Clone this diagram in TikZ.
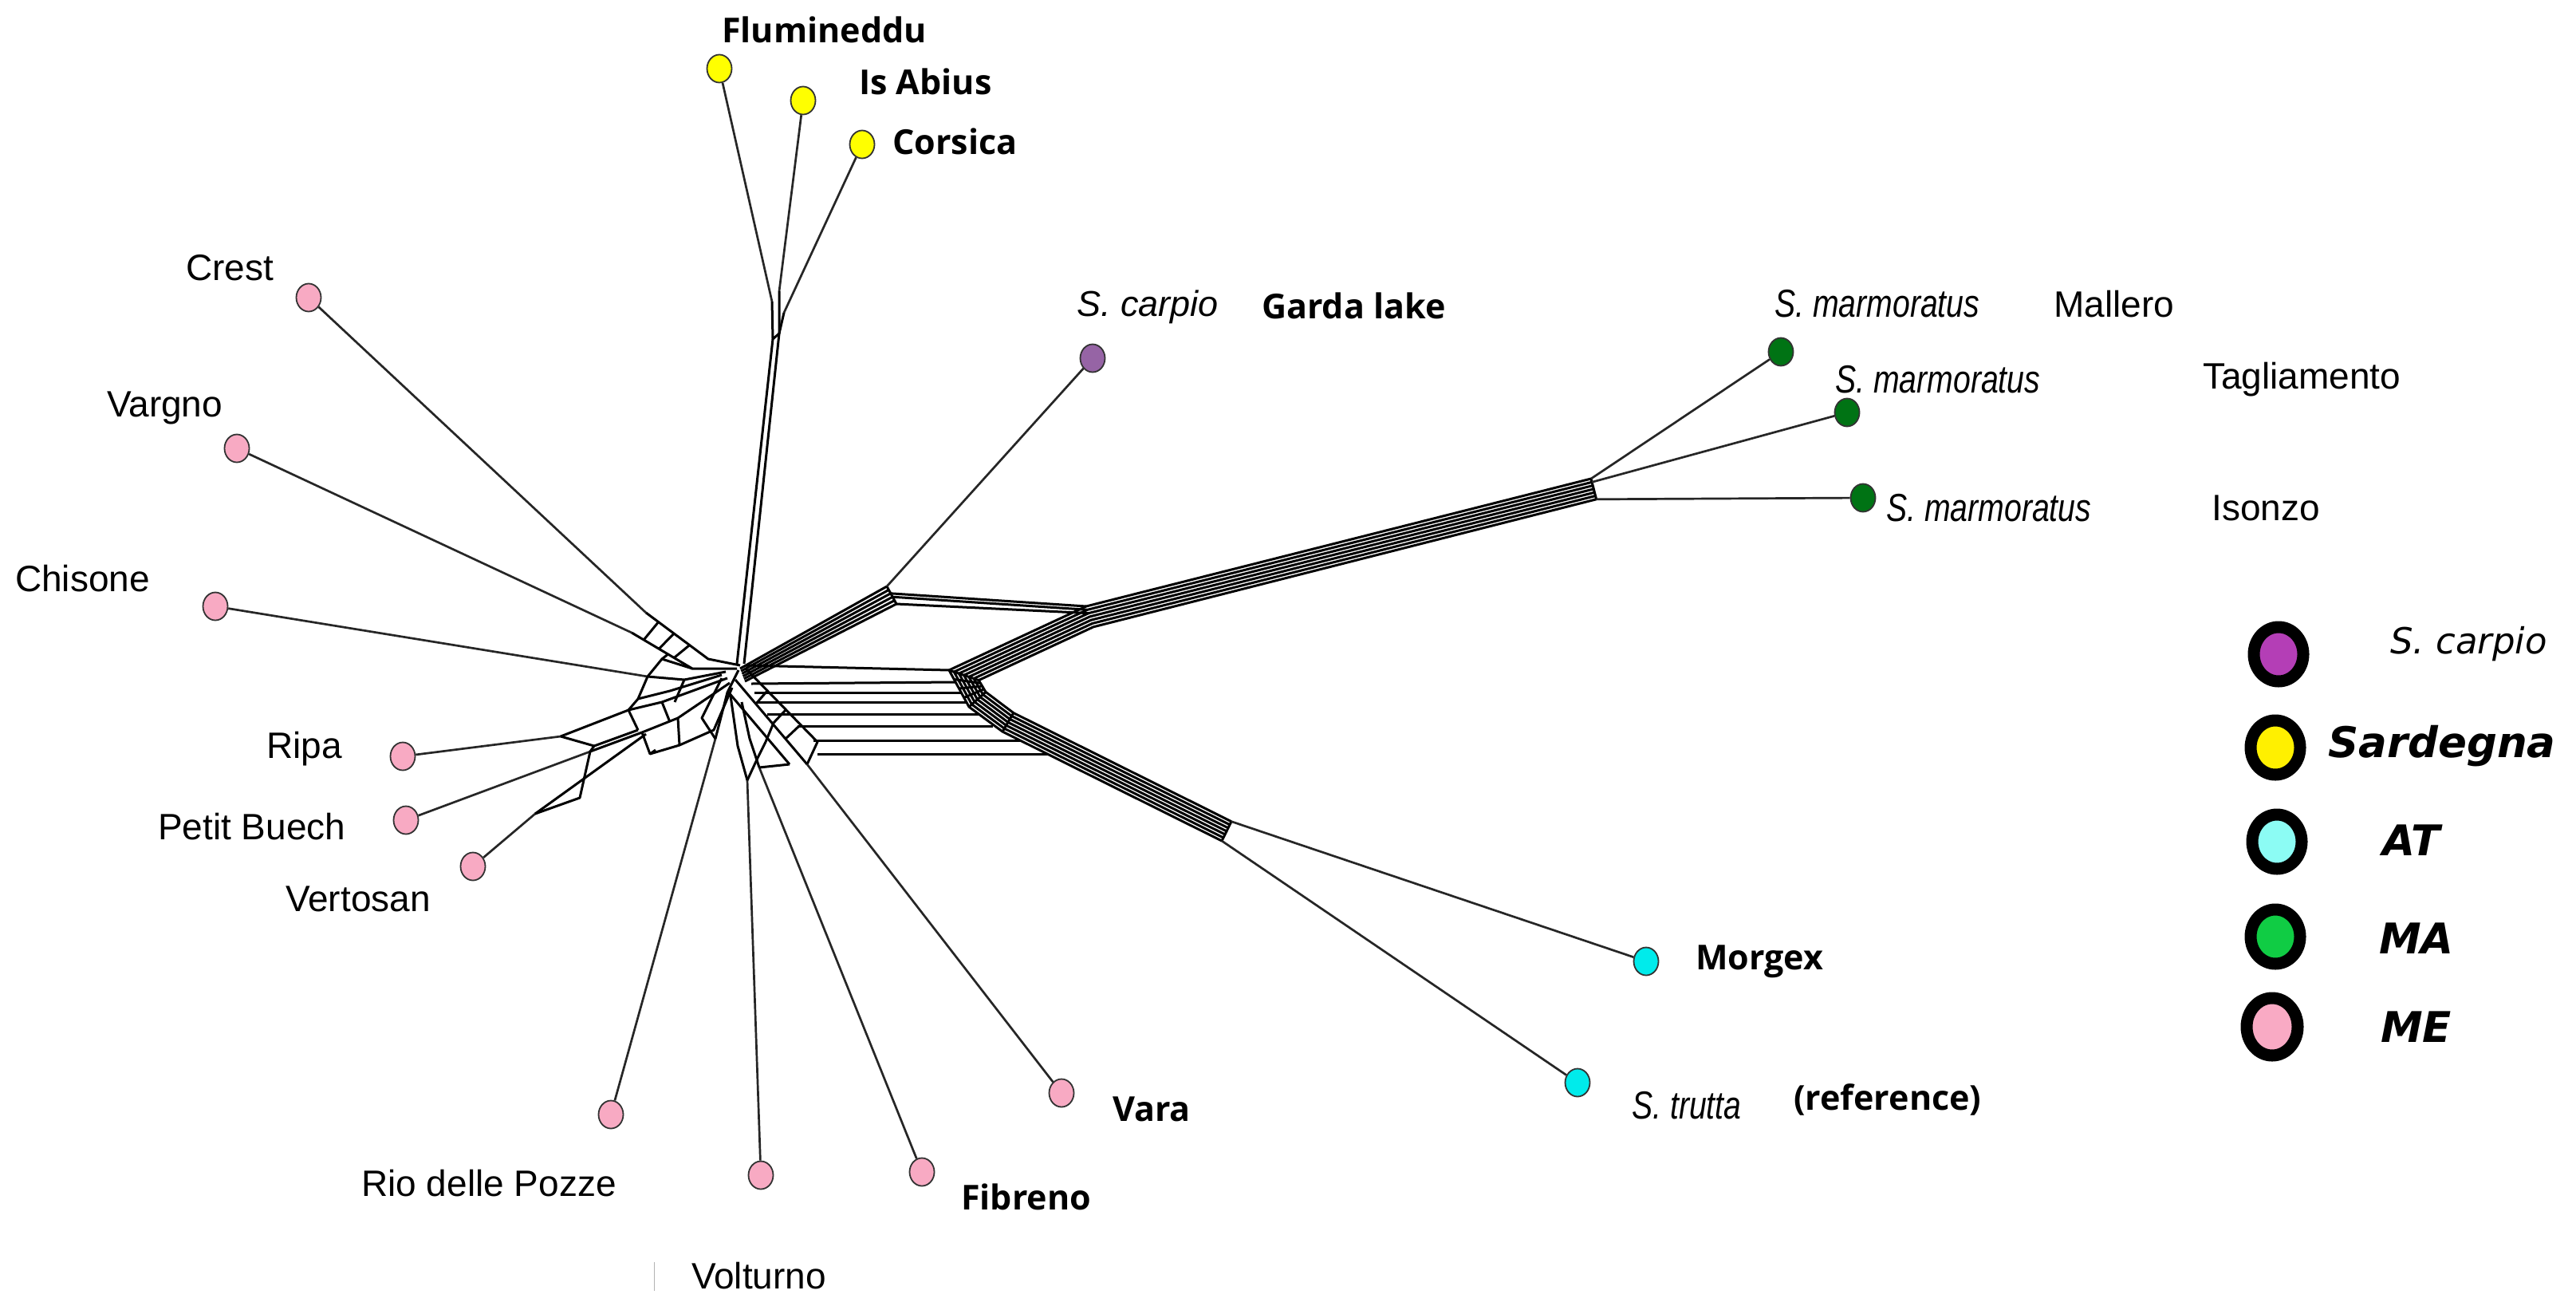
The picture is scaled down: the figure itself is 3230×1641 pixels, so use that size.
\documentclass[tikz,border=0pt]{standalone}
\usepackage{fontspec}
\setmainfont{Liberation Sans}
\newfontfamily\labfont{Open Sans}
\newfontfamily\legfont{DejaVu Sans}
\newfontfamily\narrowfont[FakeStretch=0.8]{Liberation Sans}
\usetikzlibrary{shapes.geometric,calc}
\definecolor{pinkn}{RGB}{248,170,195}
\definecolor{yelln}{RGB}{255,255,0}
\definecolor{purpn}{RGB}{150,100,165}
\definecolor{greenn}{RGB}{0,115,20}
\definecolor{cyann}{RGB}{0,235,235}
\definecolor{legpurp}{RGB}{180,62,182}
\definecolor{legyell}{RGB}{255,240,0}
\definecolor{legcyan}{RGB}{140,252,244}
\definecolor{leggreen}{RGB}{16,204,68}
\definecolor{legpink}{RGB}{249,170,196}
\tikzset{
  net/.style={line width=3pt, black, line join=round},
  tipline/.style={line width=2.7pt, black!85},
  tipnode/.style={ellipse, minimum width=31pt, minimum height=35pt, inner sep=0pt, draw=black!80, line width=1.8pt},
  reglab/.style={anchor=west, inner sep=0pt, font=\fontsize{46}{54}\selectfont},
  itlab/.style={anchor=west, inner sep=0pt, font=\fontsize{45}{54}\selectfont\itshape},
  narlab/.style={anchor=west, inner sep=0pt, font=\fontsize{49}{54}\selectfont\narrowfont\itshape},
  boldlab/.style={anchor=west, inner sep=0pt, font=\fontsize{43}{50}\selectfont\labfont\bfseries},
  legnode/.style={ellipse, minimum width=62pt, minimum height=68pt, inner sep=0pt, draw=black, line width=15pt},
  leglab/.style={anchor=west, inner sep=0pt, font=\fontsize{53}{60}\selectfont\legfont\bfseries\itshape},
}
\begin{document}
\begin{tikzpicture}[x=1pt,y=-1pt]
\useasboundingbox (0,0) rectangle (3230,1641);
\fill[white] (0,0) rectangle (3230,1641);

% ---------- tip nodes ----------
\node[tipnode, fill=yelln] (flu) at (902,86) {};
\node[tipnode, fill=yelln] (isa) at (1007,126) {};
\node[tipnode, fill=yelln] (cor) at (1081,181) {};
\node[tipnode, fill=purpn] (car) at (1370,449) {};
\node[tipnode, fill=greenn] (mal) at (2233,441) {};
\node[tipnode, fill=greenn] (tag) at (2316,517) {};
\node[tipnode, fill=greenn] (iso) at (2336,624) {};
\node[tipnode, fill=pinkn] (cre) at (387,373) {};
\node[tipnode, fill=pinkn] (var) at (297,562) {};
\node[tipnode, fill=pinkn] (chi) at (270,760) {};
\node[tipnode, fill=pinkn] (rip) at (505,948) {};
\node[tipnode, fill=pinkn] (pet) at (509,1028) {};
\node[tipnode, fill=pinkn] (ver) at (593,1086) {};
\node[tipnode, fill=pinkn] (rio) at (766,1397) {};
\node[tipnode, fill=pinkn] (vol) at (954,1473) {};
\node[tipnode, fill=pinkn] (fib) at (1156,1469) {};
\node[tipnode, fill=pinkn] (vara) at (1331,1370) {};
\node[tipnode, fill=cyann] (mor) at (2064,1205) {};
\node[tipnode, fill=cyann] (tru) at (1978,1357) {};

% ---------- labels ----------
\node[boldlab] (lflu) at (905,37) {Flumineddu};
\node[boldlab] (lisa) at (1077,102) {Is Abius};
\node[boldlab] (lcor) at (1119,177) {Corsica};
\node[itlab] (lcar) at (1350,385) {S. carpio};
\node[boldlab] (lgar) at (1582,383) {Garda lake};
\node[narlab] (lmal1) at (2225,381) {S. marmoratus};
\node[reglab] (lmal2) at (2575,381) {Mallero};
\node[narlab] (ltag1) at (2301,476) {S. marmoratus};
\node[reglab] (ltag2) at (2762,476) {Tagliamento};
\node[narlab] (liso1) at (2365,637) {S. marmoratus};
\node[reglab] (liso2) at (2773,637) {Isonzo};
\node[reglab] (lcre) at (233,336) {Crest};
\node[reglab] (lvar) at (134,511) {Vargno};
\node[reglab] (lchi) at (19,725) {Chisone};
\node[reglab] (lrip) at (334,939) {Ripa};
\node[reglab] (lpet) at (198,1036) {Petit Buech};
\node[reglab] (lver) at (358,1127) {Vertosan};
\node[reglab] (lrio) at (453,1483) {Rio delle Pozze};
\node[reglab] (lvol) at (867,1599) {Volturno};
\node[boldlab] (lfib) at (1205,1500) {Fibreno};
\node[boldlab] (lvara) at (1395,1390) {Vara};
\node[boldlab] (lmor) at (2126,1205) {Morgex};
\node[narlab] (ltru) at (2046,1386) {S. trutta};
\node[boldlab] (lref) at (2249,1378) {(reference)};
\draw[black!30, line width=1pt] (820,1582) -- (820,1618);

% ---------- Sardegna branch ----------
\coordinate (a1) at (968,378);
\coordinate (a2) at (977,365);
\coordinate (a3) at (983,392);
\coordinate (a4) at (969,425);
\coordinate (a5) at (977,418);
\draw[tipline] (flu) -- (a1);
\draw[tipline] (isa) -- (a2);
\draw[tipline] (cor) -- (a3);
\draw[net] (a1) -- (a4) -- (a5) -- (a2);
\draw[net] (a3) -- (a5);
\draw[net] (a4) -- (924,832);
\draw[net] (a5) -- (933,832);

% ---------- carpio band ----------
\coordinate (b1) at (1112,735);
\foreach \i in {0,...,5}
  \draw[net] ($(928,838)+\i*(1.2,3.2)$) -- ($(b1)+\i*(2.4,4.4)$);
\draw[net] (b1) -- ($(b1)+5*(2.4,4.4)$);
\draw[tipline] (car) -- (b1);

% ---------- marmoratus / AT band ----------
\coordinate (m1) at (1995,600);
\coordinate (m0) at (1362,760);
\coordinate (vv) at (1190,840);
\coordinate (p1) at (1215,886);
\coordinate (p2) at (1257,917);
\coordinate (ss) at (1532,1054);
\foreach \i in {0,...,6}
  \draw[net] ($(m1)+\i*(1.1,4.3)$) -- ($(m0)+\i*(1.5,4.3)$) -- ($(vv)+\i*(6.2,2.1)$)
     -- ($(p1)+\i*(3.5,-3.1)$) -- ($(p2)+\i*(2.3,-3.9)$) -- ($(ss)+\i*(2.0,-4.05)$);
\draw[net] (m1) -- ($(m1)+6*(1.1,4.3)$);
\draw[net] (ss) -- ($(ss)+6*(2.0,-4.05)$);
\draw[net] (vv) -- ($(vv)+6*(6.2,2.1)$);
\foreach \t in {0.25,0.5,0.75}
  \draw[net] ($(vv)!\t!(p1)$) -- ($($(vv)+6*(6.2,2.1)$)!\t!($(p1)+6*(3.5,-3.1)$)$);
\draw[net] (p1) -- ($(p1)+6*(3.5,-3.1)$);
\draw[net] (p2) -- ($(p2)+6*(2.3,-3.9)$);
% links carpio band -> marmoratus band
\draw[net] ($(b1)+2*(2.4,4.4)$) -- (m0);
\draw[net] ($(b1)+3*(2.4,4.4)$) -- ($(m0)+1*(1.5,4.3)$);
\draw[net] ($(b1)+5*(2.4,4.4)$) -- ($(m0)+2*(1.5,4.3)$);
% tips
\draw[tipline] (m1) -- (mal);
\draw[tipline] ($(m1)+1*(1.1,4.3)$) -- (tag);
\draw[tipline] ($(m1)+6*(1.1,4.3)$) -- (iso);
\draw[tipline] ($(ss)+6*(2.0,-4.05)$) -- (mor);
\draw[tipline] (ss) -- (tru);

% ---------- hub horizontal lines ----------
\draw[net] (935,834) -- (vv);
\draw[net] (942,857) -- (1198,855);
\draw[net] (946,868) -- (1205,868);
\draw[net] (950,880) -- (1212,880);
\draw[net] (962,895) -- (1227,895);
\draw[net] (1000,910) -- (1245,910);
\draw[net] (1020,928) -- (1280,928);
\draw[net] (1025,945) -- (1314,945);

% ---------- lower-right box ----------
\draw[net] (935,838) -- (1025,930) -- (1012,958);
\draw[net] (922,852) -- (1012,958);
\draw[net] (912,866) -- (990,958);
\draw[net] (962,866) -- (948,882);
\draw[net] (985,890) -- (970,906);
\draw[net] (1002,910) -- (985,926);
\draw[net] (970,906) -- (960,930);

% ---------- bottom branches ----------
\coordinate (rio1) at (897,926);
\coordinate (vol1) at (937,978);
\coordinate (fib1) at (952,962);
\coordinate (vara1) at (1012,958);
\draw[tipline] (rio) -- (rio1);
\draw[tipline] (vol) -- (vol1);
\draw[tipline] (fib) -- (fib1);
\draw[tipline] (vara) -- (vara1);
\draw[net] (rio1) -- (912,868) -- (926,840);
\draw[net] (rio1) -- (880,900) -- (905,850);
\draw[net] (vol1) -- (925,935) -- (916,872);
\draw[net] (vol1) -- (950,950) -- (960,930);
\draw[net] (fib1) -- (940,926) -- (930,880);
\draw[net] (fib1) -- (990,958);

% ---------- left cluster ----------
\coordinate (cr1) at (810,768);
\coordinate (cr2) at (888,826);
\coordinate (va1) at (792,793);
\coordinate (va2) at (868,838);
\draw[tipline] (cre) -- (cr1);
\draw[tipline] (var) -- (va1);
\draw[net] (cr1) -- (cr2) -- (928,834);
\draw[net] (va1) -- (va2) -- (924,838);
\foreach \t in {0.2,0.45,0.7}
  \draw[net] ($(cr1)!\t!(cr2)$) -- ($(va1)!\t!(va2)$);
\coordinate (ch1) at (812,848);
\coordinate (ch2) at (830,826);
\coordinate (ch3) at (800,876);
\draw[tipline] (chi) -- (ch1);
\draw[net] (ch1) -- (ch2) -- (va2);
\draw[net] (ch2) -- ($(va1)!0.6!(va2)$);
\draw[net] (ch1) -- (858,852) -- (910,842);
\draw[net] (ch1) -- (ch3) -- (788,890);
\draw[net] (ch3) -- (840,866) -- (905,846);
\draw[net] (858,852) -- (846,880);
\coordinate (ri1) at (703,923);
\draw[tipline] (rip) -- (ri1);
\draw[net] (ri1) -- (788,890) -- (830,880) -- (912,850);
\draw[net] (ri1) -- (745,935) -- (800,915);
\coordinate (pb1) at (740,942);
\draw[tipline] (pet) -- (pb1);
\draw[net] (pb1) -- (805,918) -- (850,900) -- (915,856);
\draw[net] (745,935) -- (pb1);
\coordinate (ve1) at (671,1020);
\draw[tipline] (ver) -- (ve1);
\draw[net] (ve1) -- (810,920);
\draw[net] (ve1) -- (727,1000) -- (pb1);
\draw[net] (805,918) -- (815,945) -- (852,934) -- (850,900);
\draw[net] (815,945) -- (822,940);
\draw[net] (852,934) -- (895,915) -- (918,862);
\draw[net] (830,880) -- (840,905);
\draw[net] (800,915) -- (788,890);

% ---------- legend ----------
\node[legnode, fill=legpurp] (g1) at (2857,820) {};
\node[legnode, fill=legyell] (g2) at (2853,937) {};
\node[legnode, fill=legcyan] (g3) at (2855,1055) {};
\node[legnode, fill=leggreen] (g4) at (2853,1174) {};
\node[legnode, fill=legpink, minimum width=64pt, minimum height=72pt] (g5) at (2849,1287) {};
\node[anchor=west, inner sep=0pt, font=\fontsize{45}{52}\selectfont\legfont\itshape] (t1) at (2997,807) {S. carpio};
\node[leglab] (t2) at (2919,935) {Sardegna};
\node[leglab] (t3) at (2987,1053) {AT};
\node[leglab] (t4) at (2983,1176) {MA};
\node[leglab] (t5) at (2985,1287) {ME};
\end{tikzpicture}
\end{document}
